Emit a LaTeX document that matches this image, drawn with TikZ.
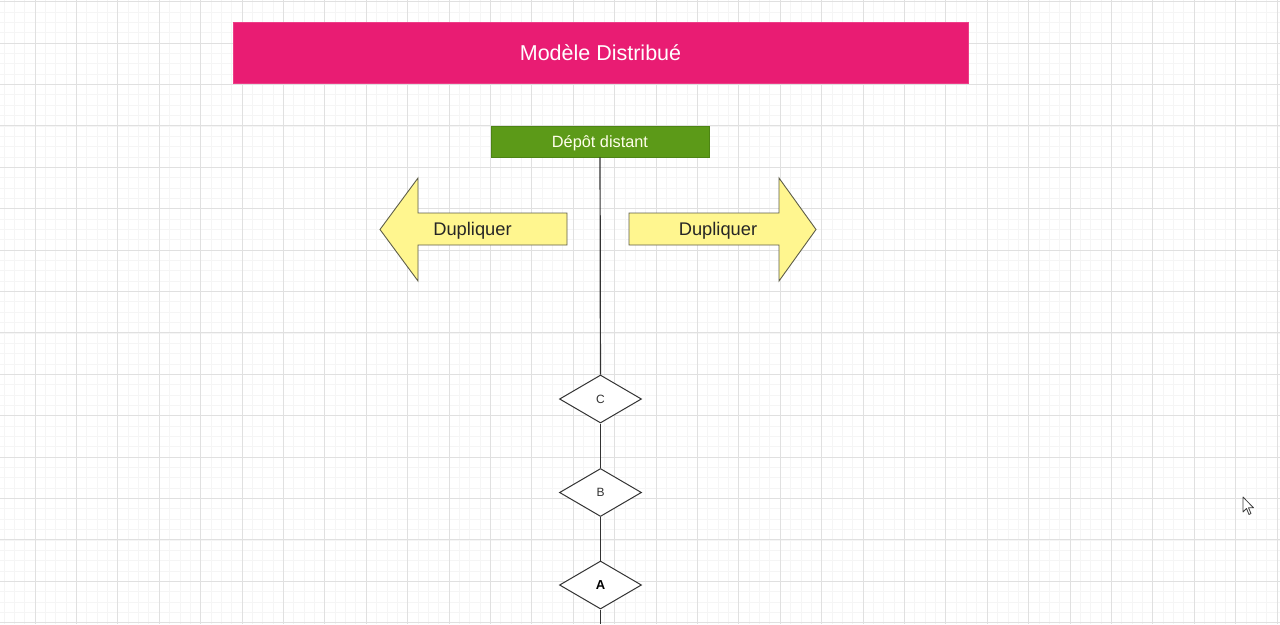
\documentclass[tikz,border=0pt]{standalone}
\usepackage{fontspec}
\setmainfont{Liberation Sans}
\usetikzlibrary{shapes.geometric}
\definecolor{titlepink}{HTML}{E91C73}
\definecolor{depotgreen}{HTML}{5C9A18}
\definecolor{depotborder}{HTML}{4D8414}
\definecolor{arrowyellow}{HTML}{FFF68F}
\definecolor{arrowstroke}{HTML}{5E5E4A}
\definecolor{minorgrid}{HTML}{F5F5F5}
\definecolor{majorgrid}{HTML}{E0E0E0}
\definecolor{linegray}{HTML}{333333}
\tikzset{
  minorline/.style={draw=minorgrid, line width=0.8pt},
  majorline/.style={draw=majorgrid, line width=0.9pt},
  titlebox/.style={rectangle, fill=titlepink, draw=titlepink!85!white, minimum width=735pt, minimum height=61pt, inner sep=0pt, text=white, font=\fontsize{21.5}{26}\selectfont, text height=15.4pt, text depth=0pt},
  depotbox/.style={rectangle, fill=depotgreen, draw=depotborder, line width=0.8pt, minimum width=218pt, minimum height=31pt, inner sep=0pt, text={white!92!yellow}, font=\fontsize{16.3}{19}\selectfont, text height=11.7pt, text depth=0pt},
  dupshape/.style={fill=arrowyellow, draw=arrowstroke, line width=0.9pt, line join=miter},
  duptext/.style={inner sep=0pt, font=\fontsize{18.3}{22}\selectfont, text=black!85, text height=13.1pt, text depth=0pt},
  version/.style={diamond, draw=linegray, fill=white, line width=1pt, minimum width=82pt, minimum height=48pt, inner sep=0pt, font=\fontsize{12}{14}\selectfont, text=black!80, text height=8.6pt, text depth=0pt},
  link/.style={draw=linegray, line width=1.2pt},
}
\begin{document}
\begin{tikzpicture}[x=1pt, y=-1pt]
\useasboundingbox (0,0) rectangle (1280,624);
\fill[white] (0,0) rectangle (1280,624);
% grid
\foreach \i in {0,...,124} { \draw[minorline] ({3.95+10.35*\i},0) -- ({3.95+10.35*\i},624); }
\foreach \i in {0,...,61} { \draw[minorline] (0,{1.7+10.35*\i}) -- (1280,{1.7+10.35*\i}); }
\foreach \i in {0,...,30} { \draw[majorline] ({35+41.4*\i},0) -- ({35+41.4*\i},624); }
\foreach \i in {0,...,15} { \draw[majorline] (0,{1.7+41.4*\i}) -- (1280,{1.7+41.4*\i}); }

% title
\node[titlebox] (title) at (600.5,52.5) {Modèle Distribué};

% remote repository
\node[depotbox] (depot) at (600,141.5) {Dépôt distant};

% duplicate arrows
\path[dupshape] (567,213) -- (418,213) -- (418,178) -- (380,229.5) -- (418,281) -- (418,245) -- (567,245) -- cycle;
\node[duptext] (dupL) at (472.5,229) {Dupliquer};
\path[dupshape] (629,213) -- (779,213) -- (779,178) -- (816,229.5) -- (779,281) -- (779,245) -- (629,245) -- cycle;
\node[duptext] (dupR) at (718,229) {Dupliquer};

% versions
\node[version] (C) at (600.5,399) {C};
\node[version] (B) at (600.5,492.5) {B};
\node[version, font=\fontsize{13}{15}\selectfont\bfseries, text=black, text height=9.3pt] (A) at (600.5,585) {A};
\coordinate (bottom) at (600.5,624);

\draw[link] (depot) -- (C);
\draw[link] (C) -- (B);
\draw[link] (B) -- (A);
\draw[link] (A) -- (bottom);

% mouse pointer
\draw[fill=white, draw=black!75, line width=0.8pt, line join=round]
  (1243,497) -- (1243,512) -- (1246.5,508.5) -- (1249,514.5) -- (1251,513.5) -- (1248.5,507.8) -- (1253.5,507.8) -- cycle;
\end{tikzpicture}
\end{document}
